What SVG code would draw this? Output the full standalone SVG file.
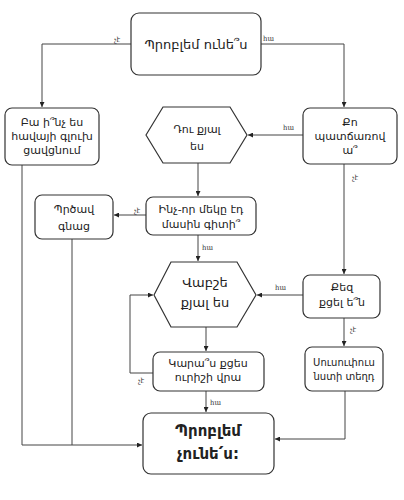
<svg xmlns="http://www.w3.org/2000/svg" width="404" height="500" viewBox="0 0 404 500">
<style>
.box{fill:#fff;stroke:#333;stroke-width:1.2}
.t{font-family:"DejaVu Sans","Noto Sans",sans-serif;font-size:11px;fill:#222;text-anchor:middle}
.big{font-size:13px}
.bold{font-size:15px;font-weight:bold}
.sm{font-size:10px}
.lbl{font-family:"Liberation Serif","DejaVu Serif",serif;font-size:7px;fill:#333}
.c{fill:none;stroke:#444;stroke-width:1}
</style>
<defs>
<marker id="a" viewBox="0 0 10 10" refX="10" refY="5" markerWidth="5" markerHeight="5" orient="auto" markerUnits="userSpaceOnUse">
<path d="M0,0 L10,5 L0,10 z" fill="#222"/>
</marker>
</defs>
<rect width="404" height="500" fill="#fff"/>
<g id="connectors">
<path class="c" d="M131,44 H42 V107" marker-end="url(#a)"/>
<path class="c" d="M261,44 H344 V107" marker-end="url(#a)"/>
<path class="c" d="M303,135 H248" marker-end="url(#a)"/>
<path class="c" d="M344,164 V274" marker-end="url(#a)"/>
<path class="c" d="M198,163 V196" marker-end="url(#a)"/>
<path class="c" d="M146,215 H114" marker-end="url(#a)"/>
<path class="c" d="M198,235 V261" marker-end="url(#a)"/>
<path class="c" d="M303,295 H257" marker-end="url(#a)"/>
<path class="c" d="M344,318 V346" marker-end="url(#a)"/>
<path class="c" d="M206,327 V351" marker-end="url(#a)"/>
<path class="c" d="M153,373 H130 V295 H153" marker-end="url(#a)"/>
<path class="c" d="M206,391 V412" marker-end="url(#a)"/>
<path class="c" d="M22,165 V445 H142" marker-end="url(#a)"/>
<path class="c" d="M72,239 V445"/>
<path class="c" d="M345,391 V439 H275" marker-end="url(#a)"/>
<text class="lbl" x="114" y="42">չէ</text>
<text class="lbl" x="263" y="41">հա</text>
<text class="lbl" x="283" y="130">հա</text>
<text class="lbl" x="352" y="180">չէ</text>
<text class="lbl" x="134" y="213">չէ</text>
<text class="lbl" x="202" y="250">հա</text>
<text class="lbl" x="275" y="290">հա</text>
<text class="lbl" x="350" y="332">չէ</text>
<text class="lbl" x="138" y="383">չէ</text>
<text class="lbl" x="210" y="405">հա</text>
</g>
<g id="start">
<rect class="box" x="131" y="13" width="130" height="62" rx="8"/>
<text class="t big" x="196" y="49">Պրոբլեմ ունե՞ս</text>
</g>
<g id="waste">
<rect class="box" x="5" y="108" width="94" height="57" rx="7"/>
<text class="t" x="52" y="126">Բա ի՞նչ ես</text>
<text class="t" x="52" y="140">հավայի գլուխ</text>
<text class="t" x="52" y="154">ցավցնում</text>
</g>
<g id="fault">
<rect class="box" x="303" y="108" width="94" height="56" rx="7"/>
<text class="t" x="350" y="126">Քո</text>
<text class="t" x="350" y="140">պատճառով</text>
<text class="t" x="350" y="154">ա՞</text>
</g>
<g id="cool1">
<polygon class="box" points="146,135 163,107 230,107 247,135 230,163 163,163"/>
<text class="t" x="197" y="133">Դու քյալ</text>
<text class="t" x="197" y="150">ես</text>
</g>
<g id="done">
<rect class="box" x="35" y="195" width="78" height="44" rx="7"/>
<text class="t" x="74" y="213">Պրծավ</text>
<text class="t" x="74" y="230">գնաց</text>
</g>
<g id="knows">
<rect class="box" x="146" y="197" width="110" height="38" rx="7"/>
<text class="t" x="201" y="213">Ինչ-որ մեկը էդ</text>
<text class="t" x="201" y="228">մասին գիտի՞</text>
</g>
<g id="cool2">
<polygon class="box" points="154,295 171,262 237,262 256,295 237,327 171,327"/>
<text class="t big" x="205" y="287">Վաբշե</text>
<text class="t big" x="205" y="307">քյալ ես</text>
</g>
<g id="screwed">
<rect class="box" x="303" y="275" width="77" height="43" rx="7"/>
<text class="t" x="342" y="291">Քեզ</text>
<text class="t" x="342" y="306">քցել ե՞ն</text>
</g>
<g id="blame">
<rect class="box" x="153" y="352" width="111" height="39" rx="7"/>
<text class="t" x="208" y="367">Կարա՞ս քցես</text>
<text class="t" x="208" y="381">ուրիշի վրա</text>
</g>
<g id="quiet">
<rect class="box" x="305" y="347" width="78" height="44" rx="7"/>
<text class="t sm" x="344" y="366">Սուսուփուս</text>
<text class="t sm" x="344" y="380">նստի տեղդ</text>
</g>
<g id="end">
<rect class="box" x="143" y="413" width="131" height="61" rx="8"/>
<text class="t bold" x="208" y="436">Պրոբլեմ</text>
<text class="t bold" x="208" y="459">չունե՛ս:</text>
</g>
</svg>
